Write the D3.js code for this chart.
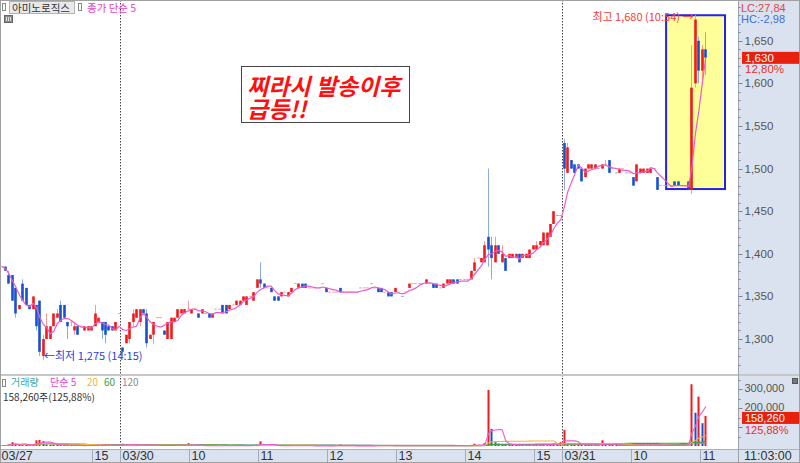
<!DOCTYPE html>
<html><head><meta charset="utf-8">
<script src="https://cdn.jsdelivr.net/npm/d3@7"></script>
<style>
html,body{margin:0;padding:0;background:#fff;}
svg{display:block;}
text{font-family:"Liberation Sans",Arial,"Noto Sans CJK KR",sans-serif;}
.kr{font-family:"Noto Sans CJK KR","Liberation Sans",sans-serif;}
</style></head><body>
<svg id="c" width="800" height="463"></svg>
<script>
// ---------------- DATA ----------------
const stockName = "아미노로직스";
const dates = ["03/27", "03/30", "03/31"];
const sessionStart = ["13:39", "09:00", "09:00"];
const fullDay = [true, true, false];

// [open, high, low, close] per 3-minute candle
const ohlc0327 = [
[1385,1385,1385,1385],[1385,1385,1380,1380],[1375,1380,1365,1365],[1375,1375,1345,1345],[1360,1360,1325,1330],
[1335,1340,1335,1340],[1365,1370,1345,1345],[1360,1360,1340,1340],[1340,1340,1335,1335],[1335,1350,1335,1350],
[1340,1340,1310,1315],[1345,1345,1280,1285],[1280,1305,1275,1300],[1300,1330,1300,1315],[1300,1315,1300,1315],
[1315,1330,1315,1330],[1325,1335,1325,1330],[1340,1345,1320,1320],[1340,1340,1325,1325],[1320,1320,1300,1315],
[1320,1320,1315,1320],[1310,1320,1305,1315],[1315,1315,1305,1305],[1315,1315,1315,1315],[1310,1315,1310,1315],
[1310,1315,1310,1315],[1310,1315,1310,1315],[1315,1340,1315,1330],[1320,1325,1320,1325],[1320,1320,1300,1310],
[1320,1320,1295,1305],[1315,1315,1310,1310],[1315,1315,1310,1310],[1310,1320,1310,1320],[1330,1330,1330,1330]
];
const ohlc0330 = [
[1290,1290,1280,1285],[1295,1305,1295,1305],[1300,1320,1295,1320],[1320,1335,1315,1330],[1325,1335,1325,1335],
[1320,1335,1315,1335],[1335,1335,1330,1330],[1330,1335,1290,1295],[1300,1305,1300,1305],[1305,1320,1295,1320],
[1325,1325,1325,1325],[1325,1325,1325,1325],[1310,1310,1305,1305],[1300,1320,1300,1320],[1300,1325,1300,1325],
[1320,1325,1320,1325],[1325,1335,1325,1335],[1330,1335,1330,1335],[1330,1335,1330,1335],[1335,1345,1335,1335],
[1330,1335,1330,1335],[1335,1335,1335,1335],[1330,1330,1325,1325],[1330,1335,1330,1335],[1330,1330,1330,1330],
[1330,1330,1325,1325],[1325,1330,1325,1330],[1335,1335,1335,1335],[1335,1335,1335,1335],[1340,1340,1330,1330],
[1340,1340,1330,1330],[1335,1340,1335,1340],[1340,1340,1340,1340],[1340,1345,1340,1345],[1340,1345,1340,1345],
[1345,1350,1345,1350],[1340,1350,1340,1350],[1350,1350,1350,1350],[1345,1355,1345,1355],[1360,1370,1360,1370],
[1370,1390,1360,1365],[1365,1365,1360,1360],[1360,1360,1360,1360],[1360,1360,1355,1355],[1350,1350,1345,1345],
[1350,1350,1345,1345],[1350,1355,1350,1355],[1355,1355,1355,1355],[1350,1355,1350,1355],[1355,1360,1355,1360],
[1365,1365,1365,1365],[1360,1365,1360,1365],[1365,1365,1360,1360],[1365,1365,1360,1360],[1360,1360,1360,1360],
[1360,1360,1360,1360],[1360,1360,1360,1360],[1360,1360,1360,1360],[1365,1365,1365,1365],[1360,1360,1355,1355],
[1355,1355,1355,1355],[1355,1355,1355,1355],[1355,1355,1355,1355],[1360,1360,1355,1355],[1355,1355,1355,1355],
[1355,1355,1355,1355],[1355,1355,1355,1355],[1355,1355,1355,1355],[1355,1355,1355,1355],[1360,1360,1360,1360],
[1360,1360,1360,1360],[1360,1360,1360,1360],[1365,1365,1365,1365],[1360,1360,1360,1360],[1360,1360,1355,1355],
[1360,1360,1355,1355],[1355,1355,1355,1355],[1355,1355,1350,1350],[1355,1355,1350,1350],[1355,1360,1355,1360],
[1355,1355,1355,1355],[1350,1350,1350,1350],[1355,1355,1355,1355],[1360,1365,1360,1365],[1365,1365,1365,1365],
[1365,1365,1365,1365],[1365,1365,1365,1365],[1365,1365,1365,1365],[1365,1370,1365,1370],[1365,1365,1365,1365],
[1365,1365,1360,1360],[1365,1365,1360,1360],[1360,1360,1360,1360],[1360,1365,1360,1365],[1365,1370,1365,1370],
[1365,1370,1365,1370],[1370,1370,1365,1365],[1370,1370,1365,1365],[1370,1370,1370,1370],[1370,1370,1370,1370],
[1370,1370,1370,1370],[1370,1380,1370,1380],[1380,1395,1380,1390],[1395,1395,1395,1395],[1390,1395,1390,1395],
[1390,1415,1390,1410],[1420,1500,1385,1405],[1410,1420,1370,1395],[1390,1420,1390,1410],[1410,1410,1400,1400],
[1390,1410,1390,1400],[1395,1395,1380,1380],[1395,1400,1395,1400],[1395,1400,1395,1400],[1395,1400,1395,1400],
[1400,1400,1390,1390],[1395,1400,1395,1400],[1395,1400,1395,1400],[1395,1405,1395,1405],[1405,1410,1405,1410],
[1405,1415,1405,1410],[1410,1415,1410,1415],[1410,1425,1410,1425],[1410,1425,1410,1425],[1420,1435,1420,1435],
[1435,1450,1435,1450],[1445,1445,1445,1445],[1445,1445,1445,1445]
];
const ohlc0331 = [
[1530,1535,1475,1500],[1495,1530,1495,1525],[1510,1510,1500,1500],[1505,1505,1495,1495],[1505,1505,1500,1500],
[1500,1500,1485,1485],[1490,1500,1490,1500],[1500,1505,1500,1505],[1500,1505,1500,1505],[1500,1505,1500,1505],
[1500,1500,1500,1500],[1500,1505,1500,1505],[1505,1510,1505,1505],[1510,1510,1495,1495],[1500,1500,1500,1500],
[1495,1495,1495,1495],[1495,1500,1495,1500],[1500,1500,1500,1500],[1495,1495,1495,1495],[1495,1495,1495,1495],
[1490,1490,1480,1480],[1485,1505,1485,1505],[1495,1500,1495,1500],[1495,1500,1495,1500],[1495,1500,1495,1500],
[1495,1500,1495,1500],[1500,1500,1500,1500],[1490,1490,1475,1475],[1480,1480,1480,1480],[1480,1480,1480,1480],
[1480,1480,1480,1480],[1480,1480,1480,1480],[1485,1485,1480,1480],[1485,1485,1480,1480],[1480,1480,1480,1480],
[1480,1480,1480,1480],[1485,1485,1475,1475],[1475,1645,1470,1595],[1600,1680,1595,1675],[1650,1655,1600,1615],
[1615,1645,1600,1640],[1640,1660,1610,1630]
];
const vol0327 = [3000,2000,8000,20000,12000,4000,9000,6000,3000,7000,30000,32000,25000,8000,6000,5000,3000,6000,4000,5000,
1000,3000,4000,1000,2000,2000,3000,9000,2000,6000,8000,2000,3000,4000,5000];
const vol0330 = [12000,5000,8000,6000,4000,7000,3000,9000,2000,6000, 1000,1000,3000,5000,6000,2000,4000,3000,3000,15000,
3000,500,2000,2000,500,1500,2000,1000,500,3000, 2000,2000,500,2000,2500,3000,3000,500,3000,6000,
25000,5000,1000,1500,3000,2500,2000,500,1500,2000, 1000,2000,1500,1000,500,500,500,500,1000,2000,
500,500,1000,8000,500,500,500,500,500,1000, 1000,1000,1000,500,1500,1500,500,2000,2000,2000,
500,1000,500,2500,1000,1000,1000,1000,2000,500, 1500,1500,500,2000,2500,2500,2000,2000,1000,1000,
1000,6000,12000,2000,3000,15000,295000,90000,20000,12000, 10000,8000,6000,6000,5000,6000,4000,4000,7000,8000,
6000,5000,8000,9000,10000,12000,6000,20000];
const vol0331 = [85000,15000,8000,6000,5000,7000,5000,4000,5000,3000, 2000,30000,4000,6000,3000,2000,4000,2000,3000,2000,
6000,9000,4000,3000,5000,4000,2000,8000,3000,2000, 2000,3000,4000,3000,2000,2000,12000,325000,175000,260000,
120000,158260];

const priceTicks = [1300, 1350, 1400, 1450, 1500, 1550, 1600, 1650];
const volTicks = [200000, 300000];
const lcText = "LC:27,84", hcText = "HC:-2,98";
const changePct = "12,80%", volPct = "125,88%";
const lastTime = "11:03:00";
const noteLines = ["찌라시 발송이후", "급등!!"];
const volMAPeriods = [5, 20, 60, 120];
const volMAColors = ["#ec5ccf", "#f2b43a", "#3f9e47", "#8c8c8c"];

// ---------------- BUILD ----------------
const dayOhlc = [ohlc0327, ohlc0330, ohlc0331];
const dayVol = [vol0327, vol0330, vol0331];
const candles = [];
dayOhlc.forEach((arr, d) => {
  const [hh, mm] = sessionStart[d].split(":").map(Number);
  arr.forEach((r, j) => {
    let t = hh * 60 + mm + 3 * j;
    if (fullDay[d] && j === arr.length - 1) t = 15 * 60 + 30;
    candles.push({day: d, j, t, o: r[0], h: r[1], l: r[2], c: r[3], v: dayVol[d][j]});
  });
});
const N = candles.length;

const svg = d3.select("#c");
const W = 800, H = 463, axisX = 738, priceBot = 374, volTop = 377, stripTop = 449;

const xs = d3.scaleBand().domain(d3.range(N)).range([0.3, 707.5]).padding(0);
const bw = xs.bandwidth();
const cx = i => xs(i) + bw / 2;
const yP = d3.scaleLinear().domain([1300, 1650]).range([339, 40.8]);
const yV = d3.scaleLinear().domain([0, 300000]).range([446, 389]);

const RED = "#f21a1a", RED_L = "#f59a9a", BLUE = "#1652cf", BLUE_L = "#8cabe6";

// backgrounds
svg.append("rect").attr("width", W).attr("height", H).attr("fill", "#fff");
svg.append("rect").attr("x", axisX).attr("y", 0).attr("width", W - axisX).attr("height", H).attr("fill", "#d9e2ee");
svg.append("rect").attr("x", 0).attr("y", stripTop).attr("width", W).attr("height", H - stripTop).attr("fill", "#d9e2ee");

const defs = svg.append("defs");
defs.append("clipPath").attr("id", "clipP").append("rect").attr("x", 0).attr("y", 0).attr("width", axisX).attr("height", priceBot);
defs.append("clipPath").attr("id", "clipV").append("rect").attr("x", 0).attr("y", volTop).attr("width", axisX).attr("height", stripTop - volTop);

// highlight box (annotation)
const hiStart = candles.findIndex(d => d.day === 2 && d.t === 10 * 60 + 30);
const hx0 = xs(hiStart), hx1 = xs(N - 1) + bw + 17.5;
const hy0 = yP(1680), hy1 = yP(1476);
svg.append("rect").attr("x", hx0).attr("y", hy0).attr("width", hx1 - hx0).attr("height", hy1 - hy0)
  .attr("fill", "#ffff99").attr("stroke", "#2323ee").attr("stroke-width", 2);

// day separators
const dayStarts = candles.map((d, i) => i).filter(i => i > 0 && candles[i].day !== candles[i - 1].day);
svg.append("g").selectAll("line").data(dayStarts).join("line")
  .attr("x1", i => Math.round(xs(i)) - 0.5).attr("x2", i => Math.round(xs(i)) - 0.5)
  .attr("y1", 0).attr("y2", stripTop)
  .attr("stroke", "#444").attr("stroke-dasharray", "1.5,1.5");

// candles
const isUp = (d, i) => d.c > d.o || (d.c === d.o && (i === 0 || d.c >= candles[i - 1].c));
const gP = svg.append("g").attr("clip-path", "url(#clipP)");
gP.selectAll("line.w").data(candles).join("line").attr("class", "w")
  .attr("x1", (d, i) => Math.floor(cx(i)) + 0.5).attr("x2", (d, i) => Math.floor(cx(i)) + 0.5)
  .attr("y1", d => yP(d.h)).attr("y2", d => yP(d.l))
  .attr("stroke", (d, i) => isUp(d, i) ? RED_L : BLUE_L).attr("stroke-width", 1)
  .style("display", d => d.h > d.l ? null : "none");
gP.selectAll("rect.b").data(candles).join("rect").attr("class", "b")
  .attr("x", (d, i) => Math.floor(cx(i)) - 0.8).attr("width", 2.6)
  .attr("y", d => d.o === d.c ? yP(d.c) - 0.5 : yP(Math.max(d.o, d.c)))
  .attr("height", d => Math.max(1, Math.abs(yP(d.o) - yP(d.c))))
  .attr("fill", (d, i) => d.o === d.c ? (isUp(d, i) ? RED_L : BLUE_L) : (isUp(d, i) ? RED : BLUE));

// moving average helper
const sma = (arr, n) => arr.map((_, i) => d3.mean(arr.slice(Math.max(0, i - n + 1), i + 1)));
const closeMA = sma(candles.map(d => d.c), 5);
gP.append("path").datum(closeMA)
  .attr("d", d3.line().x((d, i) => cx(i)).y(d => yP(d)))
  .attr("fill", "none").attr("stroke", "#ec5ccf").attr("stroke-width", 1.2);

// annotations: high / low
const hiIdx = d3.maxIndex(candles, d => d.h), loIdx = d3.minIndex(candles, d => d.l);
const fmtT = t => String(Math.floor(t / 60)).padStart(2, "0") + ":" + String(t % 60).padStart(2, "0");
svg.append("text").attr("class", "kr").attr("x", cx(hiIdx) - 2).attr("y", yP(candles[hiIdx].h) + 5.5)
  .attr("text-anchor", "end").attr("font-size", 11).attr("fill", "#f03c3c")
  .text(`최고 ${d3.format(",")(candles[hiIdx].h)} (${fmtT(candles[hiIdx].t)}) →`);
svg.append("text").attr("class", "kr").attr("x", cx(loIdx) + 0.5).attr("y", yP(candles[loIdx].l) - 0.5)
  .attr("font-size", 11).attr("fill", "#2a3ee0")
  .text(`←최저 ${d3.format(",")(candles[loIdx].l)} (${fmtT(candles[loIdx].t)})`);

// text box annotation
svg.append("rect").attr("x", 241.5).attr("y", 66.5).attr("width", 168).attr("height", 56)
  .attr("fill", "#fff").attr("stroke", "#444");
const note = svg.append("text").attr("class", "kr").attr("font-size", 23)
  .attr("font-weight", "bold").attr("font-style", "italic").attr("fill", "#ff1010");
note.selectAll("tspan").data(noteLines).join("tspan")
  .attr("x", 247).attr("y", (d, i) => 95 + i * 23).text(d => d);

// volume
const gV = svg.append("g").attr("clip-path", "url(#clipV)");
gV.selectAll("rect").data(candles).join("rect")
  .attr("x", (d, i) => Math.floor(cx(i)) - 0.5).attr("width", 2)
  .attr("y", d => Math.min(yV(d.v), yV(0) - 1)).attr("height", d => Math.max(1, yV(0) - yV(d.v)))
  .attr("fill", (d, i) => (i === 0 || d.v >= candles[i - 1].v) ? RED : BLUE);
const vols = candles.map(d => d.v);
volMAPeriods.slice().reverse().forEach((p, k) => {
  const idx = volMAPeriods.length - 1 - k;
  gV.append("path").datum(sma(vols, p))
    .attr("d", d3.line().x((d, i) => cx(i)).y(d => yV(d)))
    .attr("fill", "none").attr("stroke", volMAColors[idx]).attr("stroke-width", 1.1);
});

// separators
svg.append("rect").attr("x", 0).attr("y", priceBot).attr("width", W).attr("height", 2).attr("fill", "#c6c6c6");
svg.append("line").attr("x1", 0).attr("x2", W).attr("y1", stripTop + 0.5).attr("y2", stripTop + 0.5).attr("stroke", "#a9b1bd");
svg.append("line").attr("x1", axisX + 0.5).attr("x2", axisX + 0.5).attr("y1", 0).attr("y2", H).attr("stroke", "#9aa2ae");

// price axis
const gA = svg.append("g").attr("transform", `translate(${axisX + 0.5},0)`);
const minorP = d3.range(1260, 1700, 10).filter(v => yP(v) > 2 && yP(v) < priceBot - 2);
gA.selectAll("line.m").data(minorP).join("line").attr("class", "m")
  .attr("x1", 0).attr("x2", v => priceTicks.includes(v) ? 4 : 2)
  .attr("y1", v => Math.round(yP(v)) + 0.5).attr("y2", v => Math.round(yP(v)) + 0.5).attr("stroke", "#7d8592");
gA.selectAll("text.p").data(priceTicks).join("text").attr("class", "p")
  .attr("x", 6).attr("y", v => yP(v) + 4).attr("font-size", 11.5).attr("fill", "#555").text(d3.format(","));
// volume axis
const minorV = d3.range(50000, 400000, 50000).filter(v => yV(v) > volTop + 2);
gA.selectAll("line.v").data(minorV).join("line").attr("class", "v")
  .attr("x1", 0).attr("x2", v => v % 100000 === 0 ? 4 : 2)
  .attr("y1", v => Math.round(yV(v)) + 0.5).attr("y2", v => Math.round(yV(v)) + 0.5).attr("stroke", "#7d8592");
gA.selectAll("text.v").data(volTicks).join("text").attr("class", "v")
  .attr("x", 6).attr("y", v => yV(v) + 3).attr("font-size", 11).attr("fill", "#555").text(d3.format(","));

// LC / HC
svg.append("text").attr("x", 741).attr("y", 12).attr("font-size", 11).attr("fill", "#e84444").text(lcText);
svg.append("text").attr("x", 741).attr("y", 22.5).attr("font-size", 11).attr("fill", "#3e6fe0").text(hcText);

// current price box
const last = candles[N - 1];
svg.append("rect").attr("x", 742).attr("y", yP(last.c) - 6).attr("width", 57).attr("height", 12).attr("fill", "#e8200e");
svg.append("text").attr("x", 745).attr("y", yP(last.c) + 4).attr("font-size", 11.5).attr("fill", "#fff").text(d3.format(",")(last.c));
svg.append("text").attr("x", 745).attr("y", yP(last.c) + 15).attr("font-size", 11.5).attr("fill", "#e83030").text(changePct);
// current volume box
svg.append("rect").attr("x", 742).attr("y", yV(last.v) - 4).attr("width", 57).attr("height", 12).attr("fill", "#e8200e");
svg.append("text").attr("x", 745).attr("y", yV(last.v) + 6.5).attr("font-size", 11).attr("fill", "#fff").text(d3.format(",")(last.v));
svg.append("text").attr("x", 745).attr("y", yV(last.v) + 18).attr("font-size", 11).attr("fill", "#e83030").text(volPct);
// small icon
svg.append("rect").attr("x", 792.5).attr("y", 378.5).attr("width", 5).attr("height", 5).attr("fill", "#777").attr("stroke", "#555");

// bottom time axis (hour ticks too close to a date label are skipped)
const isDayStart = i => i === 0 || candles[i].day !== candles[i - 1].day;
const tickIdx = [];
candles.forEach((d, i) => {
  if (isDayStart(i)) tickIdx.push(i);
  else if (d.t % 60 === 0) {
    const prev = tickIdx[tickIdx.length - 1];
    if (prev === undefined || xs(i) - xs(prev) > 40) tickIdx.push(i);
  }
});
const tickLabel = i => isDayStart(i) ? dates[candles[i].day] : String(Math.floor(candles[i].t / 60));
const gX = svg.append("g");
gX.selectAll("line").data(tickIdx.filter(i => i > 0)).join("line")
  .attr("x1", i => Math.round(xs(i)) - 0.5).attr("x2", i => Math.round(xs(i)) - 0.5)
  .attr("y1", stripTop).attr("y2", H).attr("stroke", "#a3abb8");
gX.selectAll("text").data(tickIdx).join("text")
  .attr("x", i => Math.round(xs(i)) + 1.5).attr("y", 460).attr("font-size", 12.5).attr("fill", "#333").text(tickLabel);
svg.append("text").attr("x", 744).attr("y", 460).attr("font-size", 12.5).attr("fill", "#333").text(lastTime);

// header legend
svg.append("rect").attr("x", 2.5).attr("y", 3.5).attr("width", 3).attr("height", 7).attr("fill", "#fff").attr("stroke", "#888");
svg.append("rect").attr("x", 9.5).attr("y", 1.5).attr("width", 65).attr("height", 12).attr("fill", "#e9e9e9").attr("stroke", "#b3b3b3");
svg.append("text").attr("class", "kr").attr("x", 12).attr("y", 11.5).attr("font-size", 10.5).attr("fill", "#333").text(stockName);
svg.append("rect").attr("x", 78.5).attr("y", 3.5).attr("width", 3).attr("height", 7).attr("fill", "#fff").attr("stroke", "#888");
svg.append("text").attr("class", "kr").attr("x", 87).attr("y", 11.5).attr("font-size", 10.5).attr("fill", "#e044c6").text("종가 단순 5");
const ic = svg.append("g");
ic.append("rect").attr("x", 4.5).attr("y", 15.5).attr("width", 8).attr("height", 7).attr("fill", "#8a8a8a").attr("stroke", "#666");
[6.5, 8.5, 10.5].forEach(x => ic.append("line").attr("x1", x).attr("x2", x).attr("y1", 17).attr("y2", 21).attr("stroke", "#ddd"));

// volume legend
svg.append("rect").attr("x", 2.5).attr("y", 379.5).attr("width", 3).attr("height", 7).attr("fill", "#fff").attr("stroke", "#888");
const vl = [["거래량", 11, "#3aa5a5"], ["단순 5", 50, "#e044c6"], ["20", 87, "#f2b43a"], ["60", 104, "#3f9e47"], ["120", 122, "#8c8c8c"]];
vl.forEach(([t, x, c]) => svg.append("text").attr("class", "kr").attr("x", x).attr("y", 386).attr("font-size", 10).attr("fill", c).text(t));
svg.append("text").attr("class", "kr").attr("x", 3).attr("y", 401).attr("font-size", 10).attr("fill", "#333")
  .text(`${d3.format(",")(last.v)}주(${volPct})`);

// frame
svg.append("rect").attr("x", 0.5).attr("y", 0.5).attr("width", W - 1).attr("height", H - 1).attr("fill", "none").attr("stroke", "#a0a0a0");
</script>
</body></html>
